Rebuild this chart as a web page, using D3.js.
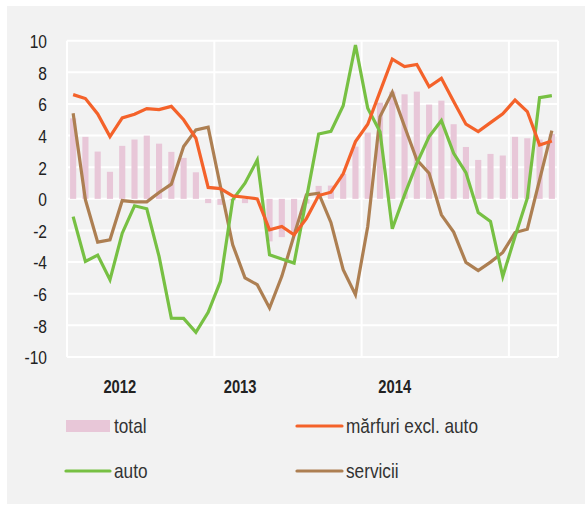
<!DOCTYPE html>
<html>
<head>
<meta charset="utf-8">
<script src="https://cdn.jsdelivr.net/npm/d3@7"></script>
<style>
  html, body { margin: 0; padding: 0; background: #ffffff; }
  svg { display: block; }
</style>
</head>
<body>
<svg id="chart" width="585" height="505"></svg>
<script>
// ---- data (monthly, Jan 2012 – Apr 2015) ----
const months = d3.range(40);
const total = [5.09, 3.92, 2.99, 1.71, 3.35, 3.75, 4.0, 3.49, 2.97, 2.59,
               1.68, -0.27, -0.38, -0.1, -0.27, -0.05, -2.69, -2.42, -2.08, -0.3,
               0.82, 0.84, 1.58, 3.3, 4.19, 6.08, 6.78, 6.61, 6.78, 5.96,
               6.21, 4.72, 3.28, 2.46, 2.84, 2.74, 3.92, 3.83, 3.75, 4.1];
const marfuri = [6.59, 6.34, 5.37, 3.94, 5.12, 5.35, 5.71, 5.64, 5.85, 5.0,
                 3.83, 0.72, 0.65, 0.19, 0.1, 0.0, -1.96, -1.75, -2.27, -1.25,
                 0.21, 0.42, 1.58, 3.62, 4.72, 6.78, 8.84, 8.36, 8.5, 7.09,
                 7.62, 6.15, 4.72, 4.25, 4.82, 5.37, 6.25, 5.52, 3.41, 3.66];
const auto = [-1.12, -3.96, -3.56, -5.12, -2.17, -0.44, -0.63, -3.64, -7.54, -7.56,
              -8.44, -7.18, -5.22, -0.06, 0.99, 2.46, -3.54, -3.81, -4.06, 0.0,
              4.1, 4.27, 5.89, 9.73, 5.73, 4.25, -1.89, 0.25, 2.25, 3.94,
              4.95, 2.88, 1.66, -0.86, -1.43, -4.91, -2.38, 0.04, 6.4, 6.53];
const servicii = [5.41, -0.06, -2.74, -2.59, -0.11, -0.19, -0.19, 0.4, 0.93, 3.31,
                  4.36, 4.53, 0.78, -2.9, -5.0, -5.43, -6.9, -4.9, -2.3, 0.25,
                  0.36, -1.49, -4.48, -6.06, -1.75, 5.2, 6.74, 4.57, 2.46, 1.62,
                  -1.01, -2.1, -4.02, -4.53, -4.0, -3.39, -2.13, -1.92, 1.2, 4.32];
const yTicks = [10, 8, 6, 4, 2, 0, -2, -4, -6, -8, -10];
const yearLabels = ["2012", "2013", "2014"];
const yearLabelAt = [4.3, 14.1, 26.7];   // month position of each label
const yearBreaks = [12, 24, 36];         // month index where a new year starts

const colors = { total: "#e8c7d8", marfuri: "#f4622a", auto: "#77c043", servicii: "#ad7f52" };

// ---- layout ----
const svg = d3.select("#chart");
const L = 67, R = 558, T = 40.7, B = 357;
const FONT = "Liberation Sans, Arial, sans-serif";
const SX = 0.82; // horizontal condensation

svg.append("rect").attr("x", 7).attr("y", 6).attr("width", 578).attr("height", 498)
   .attr("fill", "#f2f2f2");

const x = d3.scaleBand().domain(months).range([L, R]).paddingInner(0.5).paddingOuter(0.25);
const xc = d3.scaleLinear().domain([0, 40]).range([L, R]);
const y = d3.scaleLinear().domain([-10, 10]).range([B, T]);
const cx = i => x(i) + x.bandwidth() / 2;

// grid
const g = svg.append("g");
g.selectAll("line.h").data(yTicks).join("line")
  .attr("x1", L).attr("x2", R).attr("y1", d => y(d)).attr("y2", d => y(d))
  .attr("stroke", "#ffffff").attr("stroke-width", 2);
g.selectAll("line.v").data([0, ...yearBreaks, 40]).join("line")
  .attr("x1", d => xc(d)).attr("x2", d => xc(d)).attr("y1", T).attr("y2", B)
  .attr("stroke", "#ffffff").attr("stroke-width", 2);

// y axis labels
const yAxis = d3.axisLeft(y).tickValues(yTicks).tickSize(0).tickPadding(0)
  .tickFormat(d => d < 0 ? "-" + Math.abs(d) : String(d));
const ya = svg.append("g").attr("transform", `translate(47,0)`).call(yAxis);
ya.select(".domain").remove();
ya.selectAll("text").attr("font-family", FONT).attr("font-size", 19)
  .attr("fill", "#222").attr("x", 0).attr("dy", "0.36em")
  .attr("transform", `scale(${SX},1)`);

// bars
svg.append("g").selectAll("rect").data(months).join("rect")
  .attr("x", i => x(i)).attr("width", x.bandwidth())
  .attr("y", i => y(Math.max(0, total[i])))
  .attr("height", i => Math.abs(y(total[i]) - y(0)))
  .attr("fill", colors.total);

// lines
const line = arr => d3.line().x(i => cx(i)).y(i => y(arr[i]))(months);
[["servicii", servicii], ["auto", auto], ["marfuri", marfuri]].forEach(([k, arr]) => {
  svg.append("path").attr("d", line(arr)).attr("fill", "none")
    .attr("stroke", colors[k]).attr("stroke-width", 3.2).attr("stroke-linejoin", "miter");
});

// year labels
svg.append("g").selectAll("text").data(yearLabels).join("text")
  .attr("transform", (d, i) => `translate(${xc(yearLabelAt[i])},393) scale(${SX},1)`)
  .attr("text-anchor", "middle").attr("font-family", FONT)
  .attr("font-weight", "bold").attr("font-size", 18).attr("fill", "#222")
  .text(d => d);

// legend
const leg = svg.append("g").attr("font-family", FONT).attr("font-size", 21).attr("fill", "#333");
const legText = (tx, ty, s) => leg.append("text")
  .attr("transform", `translate(${tx},${ty}) scale(${SX},1)`).text(s);
leg.append("rect").attr("x", 66).attr("y", 420).attr("width", 44).attr("height", 12).attr("fill", colors.total);
legText(114, 433, "total");
leg.append("line").attr("x1", 297).attr("x2", 342).attr("y1", 426).attr("y2", 426)
  .attr("stroke", colors.marfuri).attr("stroke-width", 3.2).attr("stroke-linecap", "round");
legText(346, 433, "mărfuri excl. auto");
leg.append("line").attr("x1", 66).attr("x2", 110).attr("y1", 471).attr("y2", 471)
  .attr("stroke", colors.auto).attr("stroke-width", 3.2).attr("stroke-linecap", "round");
legText(114, 478, "auto");
leg.append("line").attr("x1", 297).attr("x2", 342).attr("y1", 471).attr("y2", 471)
  .attr("stroke", colors.servicii).attr("stroke-width", 3.2).attr("stroke-linecap", "round");
legText(346, 478, "servicii");
</script>
</body>
</html>
